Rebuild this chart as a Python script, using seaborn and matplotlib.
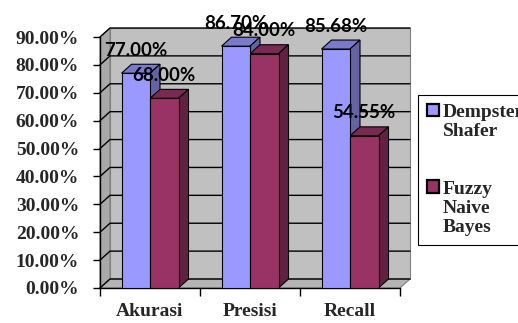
import numpy as np
import pandas as pd
import matplotlib
matplotlib.use("Agg")
import matplotlib.pyplot as plt
import matplotlib.transforms as mtransforms
from matplotlib.patches import Polygon, Patch
from matplotlib.ticker import PercentFormatter, FixedLocator
import seaborn as sns

# data
metrics = ["Akurasi", "Presisi", "Recall"]
dempster_shafer = [0.77, 0.867, 0.8568]
fuzzy_naive_bayes = [0.68, 0.84, 0.5455]
methods = ["Dempster Shafer", "Fuzzy Naive Bayes"]
legend_labels = ["Dempster\nShafer", "Fuzzy\nNaive\nBayes"]
colors = ["#9999ff", "#993366"]

df = pd.DataFrame({
    "metric": metrics * 2,
    "value": dempster_shafer + fuzzy_naive_bayes,
    "method": [methods[0]] * 3 + [methods[1]] * 3,
})

sns.set_style("white")
plt.rcParams["font.family"] = ["Liberation Serif", "DejaVu Serif"]

W, H = 518, 323
fig = plt.figure(figsize=(W / 100, H / 100), dpi=100)
ax = fig.add_axes([100 / W, 35 / H, 300 / W, 251 / H])
ax.set_facecolor("none")

sns.barplot(data=df, x="metric", y="value", hue="method", palette=colors,
            width=0.57, edgecolor="black", linewidth=0.8, saturation=1,
            legend=False, ax=ax, zorder=3)
bars = list(ax.patches)

ax.set_xlim(-0.5, 2.5)
ax.set_ylim(0, 0.9)
ax.yaxis.set_major_locator(FixedLocator(np.arange(0, 0.91, 0.1)))
ax.yaxis.set_major_formatter(PercentFormatter(1.0, decimals=2))
ax.set_xlabel("")
ax.set_ylabel("")

for s in ["top", "right"]:
    ax.spines[s].set_visible(False)
for s in ["left", "bottom"]:
    ax.spines[s].set_color("black")
    ax.spines[s].set_linewidth(1)

ax.tick_params(axis="y", left=True, length=5, width=1, color="black",
               labelsize=14, pad=10)
ax.tick_params(axis="x", which="major", length=0, labelsize=14, pad=11)
ax.set_xticks([-0.5, 0.5, 1.5, 2.5], minor=True)
ax.tick_params(axis="x", which="minor", bottom=True, length=6, width=1, color="black")
for lab in ax.get_xticklabels() + ax.get_yticklabels():
    lab.set_fontweight("bold")

# fake 3D depth, in pixels
dx, dy = 10, 9
ident = mtransforms.IdentityTransform()
(x0, y0), (x1, y1) = ax.transAxes.transform([(0, 0), (1, 1)])

walls = [
    ([(x0, y0), (x0, y1), (x0 + dx, y1 + dy), (x0 + dx, y0 + dy)], "#a9a9a9"),
    ([(x0 + dx, y0 + dy), (x0 + dx, y1 + dy), (x1 + dx, y1 + dy), (x1 + dx, y0 + dy)], "#c0c0c0"),
    ([(x0, y0), (x1, y0), (x1 + dx, y0 + dy), (x0 + dx, y0 + dy)], "#b4b4b4"),
]
for pts, c in walls:
    ax.add_patch(Polygon(pts, closed=True, facecolor=c, edgecolor="#808080",
                         linewidth=0.8, transform=ident, clip_on=False, zorder=0))

for v in ax.get_yticks():
    _, yv = ax.transData.transform((0, v))
    ax.plot([x0, x0 + dx, x1 + dx], [yv, yv + dy, yv + dy], color="black",
            linewidth=1, transform=ident, clip_on=False, zorder=1)

def shade(c, f):
    r, g, b, _ = matplotlib.colors.to_rgba(c)
    return (r * f, g * f, b * f)

for b in bars:
    bx0, bx1 = b.get_x(), b.get_x() + b.get_width()
    h = b.get_height()
    (px0, pb), (px1, pt) = ax.transData.transform([(bx0, 0), (bx1, h)])
    fc = b.get_facecolor()
    top = [(px0, pt), (px1, pt), (px1 + dx, pt + dy), (px0 + dx, pt + dy)]
    side = [(px1, pb), (px1, pt), (px1 + dx, pt + dy), (px1 + dx, pb + dy)]
    ax.add_patch(Polygon(top, facecolor=shade(fc, 0.8), edgecolor="black",
                         linewidth=0.8, transform=ident, clip_on=False, zorder=2))
    ax.add_patch(Polygon(side, facecolor=shade(fc, 0.65), edgecolor="black",
                         linewidth=0.8, transform=ident, clip_on=False, zorder=2))
    ax.annotate(f"{h * 100:.2f}%", (b.get_x() + b.get_width() / 2, h),
                xytext=(0, 16.5), textcoords="offset points", ha="center",
                va="center", fontsize=13.5, fontweight="bold",
                family=["Lato", "DejaVu Sans"], color="black",
                annotation_clip=False, zorder=5)

# legend: one line per entry so the marker sits on the first line
handles, labels = [], []
for i, lab in enumerate(legend_labels):
    lines = lab.split("\n")
    for j, line in enumerate(lines):
        if j == 0:
            handles.append(Patch(facecolor=colors[i], edgecolor="black", linewidth=1.6))
        else:
            handles.append(Patch(facecolor="none", edgecolor="none"))
        labels.append(line)
    if i < len(legend_labels) - 1:
        handles.append(Patch(facecolor="none", edgecolor="none"))
        labels.append(" \n ")

leg = fig.legend(handles, labels, loc="upper left",
                 bbox_to_anchor=(418 / W, 1 - 95 / H), bbox_transform=fig.transFigure,
                 frameon=True, fancybox=False, framealpha=1, edgecolor="black",
                 handlelength=0.62, handleheight=0.62, handletextpad=0.2,
                 labelspacing=0.1, borderpad=0.45, borderaxespad=0,
                 prop={"family": "Liberation Serif", "weight": "bold", "size": 14})
leg.get_frame().set_linewidth(0.8)

fig.savefig("out.png", dpi=100)
